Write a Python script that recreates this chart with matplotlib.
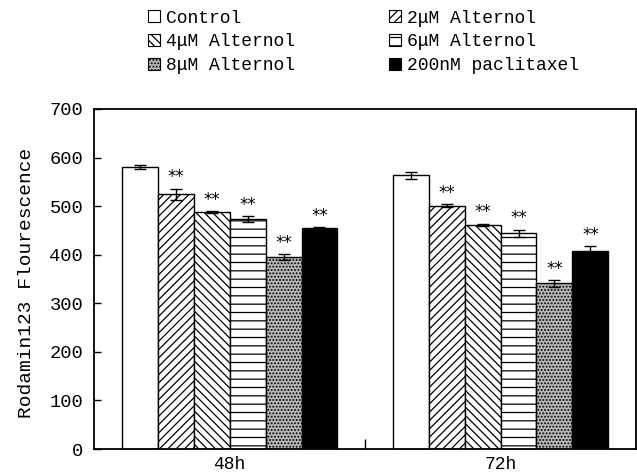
import matplotlib
matplotlib.use("Agg")
import matplotlib.pyplot as plt
import numpy as np
from matplotlib.patches import Patch

plt.rcParams['font.family'] = ['Liberation Mono', 'DejaVu Sans']
plt.rcParams['hatch.linewidth'] = 0.9

groups = ["48h", "72h"]
series = ["Control", "2\u03bcM Alternol", "4\u03bcM Alternol", "6\u03bcM Alternol",
          "8\u03bcM Alternol", "200nM paclitaxel"]
values = {
    "48h": [581, 524, 488, 473, 395, 454],
    "72h": [563, 501, 462, 444, 341, 408],
}
errors = {
    "48h": [4, 12, 2, 6, 6, 2],
    "72h": [8, 3, 2, 7, 7, 9],
}
signif = ["", "**", "**", "**", "**", "**"]
yticks = [0, 100, 200, 300, 400, 500, 600, 700]

hatches = [None, '////', '\\\\\\\\', '--', '.....', None]
faces = ['white', 'white', 'white', 'white', '#b8b8b8', 'black']

fig = plt.figure(figsize=(6.37, 4.73), dpi=100)
ax = fig.add_axes([0.148, 0.0507, 0.8505, 0.719])

n = len(series)
w = 0.1325
x = np.arange(len(groups))
for i in range(n):
    vals = [values[g][i] for g in groups]
    errs = [errors[g][i] for g in groups]
    pos = x + (i - (n - 1) / 2) * w
    ax.bar(pos, vals, w, color=faces[i], edgecolor='black', linewidth=1.0,
           hatch=hatches[i], zorder=2)
    ax.errorbar(pos, vals, yerr=errs, fmt='none', ecolor='black',
                elinewidth=1.0, capsize=4, capthick=1.0, zorder=3)
    if signif[i]:
        for p, v, e in zip(pos, vals, errs):
            ax.text(p, v + e + 5, signif[i], ha='center', va='bottom',
                    fontsize=12, family='DejaVu Sans')

ax.set_xlim(-0.5, 1.5)
ax.set_ylim(0, 700)
ax.set_yticks(yticks)
ax.set_yticklabels([str(t) for t in yticks], fontsize=13.5)
ax.tick_params(axis='y', direction='in', length=5, width=1, pad=8)
ax.set_xticks([0.5])
ax.set_xticklabels([""])
ax.tick_params(axis='x', direction='in', length=7, width=1)
for g, xv in zip(groups, x):
    ax.text(xv, -14, g, ha='center', va='top', fontsize=13,
            transform=ax.transData)
for s in ax.spines.values():
    s.set_linewidth(1.3)
ax.set_ylabel("Rodamin123 Flourescence", fontsize=14, labelpad=5)
ax.yaxis.set_label_coords(-0.11, 0.49)

handles = [Patch(facecolor=faces[i], edgecolor='black', hatch=hatches[i],
                 linewidth=0.8) for i in range(n)]
order = [0, 2, 4, 1, 3, 5]
leg = fig.legend([handles[i] for i in order], [series[i] for i in order],
                 ncol=2, loc='upper left', bbox_to_anchor=(0.207, 1.014),
                 frameon=False, fontsize=13, handlelength=0.65,
                 handleheight=0.65, handletextpad=0.35, columnspacing=5.2,
                 labelspacing=0.38)

fig.savefig("out.png", dpi=100)
